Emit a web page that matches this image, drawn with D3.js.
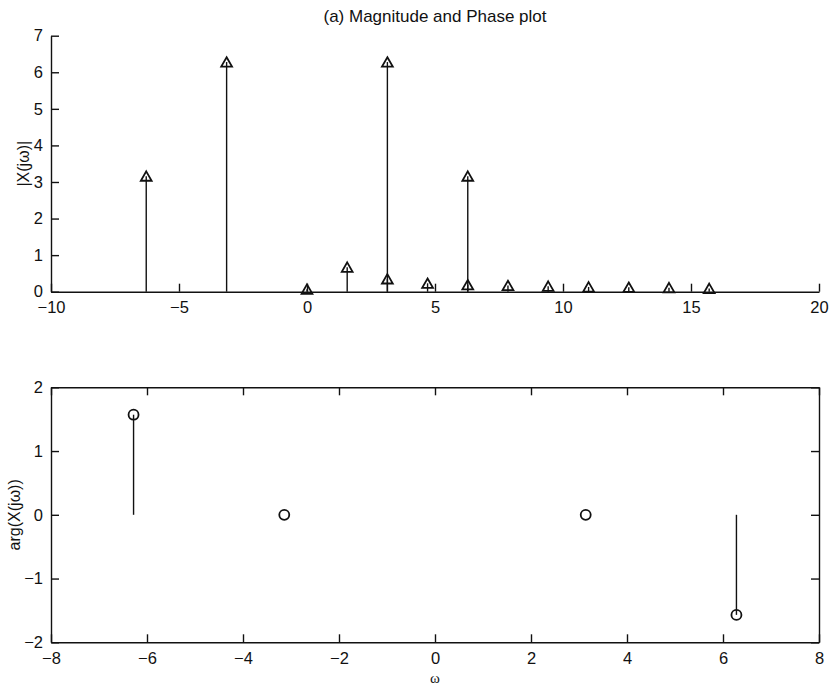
<!DOCTYPE html>
<html>
<head>
<meta charset="utf-8">
<script src="https://cdn.jsdelivr.net/npm/d3@7"></script>
<style>
  body { margin: 0; background: #fff; }
  svg { display: block; font-family: "Liberation Sans", Arial, Helvetica, sans-serif; }
</style>
</head>
<body>
<svg id="chart" width="830" height="687"></svg>
<script>
// Magnitude spectrum samples: frequency ω and |X(jω)|
const magOmega = [-6.28, -3.14, 0, 1.57, 3.14, 3.14, 4.71, 6.28, 6.28, 7.85, 9.42, 11.0, 12.57, 14.14, 15.71];
const magValue = [3.16, 6.28, 0.07, 0.67, 6.28, 0.35, 0.23, 3.16, 0.19, 0.17, 0.15, 0.13, 0.12, 0.11, 0.09];

// Phase spectrum samples: frequency ω and arg(X(jω))
const phaseOmega = [-6.28, -3.14, 3.14, 6.28];
const phaseValue = [1.57, 0, 0, -1.57];

// Tick values for both panels
const magXTicks = [-10, -5, 0, 5, 10, 15, 20];
const magYTicks = [0, 1, 2, 3, 4, 5, 6, 7];
const phaseXTicks = [-8, -6, -4, -2, 0, 2, 4, 6, 8];
const phaseYTicks = [-2, -1, 0, 1, 2];

// Text
const titleText = "(a) Magnitude and Phase plot";
const magLabel = "|X(jω)|";
const phaseLabel = "arg(X(jω))";
const omegaLabel = "ω";

const svg = d3.select("#chart");
const ink = "#111";
const plotLeft = 51, plotRight = 819;
const intFmt = d3.format("d");

// Scales
const xMag = d3.scaleLinear().domain([-10, 20]).range([plotLeft, plotRight]);
const yMag = d3.scaleLinear().domain([0, 7]).range([291.7, 35.7]);
const xPh = d3.scaleLinear().domain([-8, 8]).range([plotLeft, plotRight]);
const yPh = d3.scaleLinear().domain([-2, 2]).range([642.3, 387.3]);

function styleAxis(g, showText) {
  g.select(".domain").attr("stroke", ink).attr("stroke-width", 1.4);
  g.selectAll(".tick line").attr("stroke", ink).attr("stroke-width", 1.4);
  g.selectAll(".tick text")
    .attr("fill", ink)
    .style("font-size", "16.5px")
    .style("font-family", "\"Liberation Sans\", Arial, Helvetica, sans-serif");
  if (!showText) g.selectAll(".tick text").remove();
  g.attr("font-size", null).attr("font-family", null);
}

// Open triangle marker centred on the data point
const triangle = d3.line()([[0, -4.8], [5.4, 4.6], [-5.4, 4.6], [0, -4.8]]) + "Z";

// ---------- Magnitude panel ----------
const magPanel = svg.append("g");

magPanel.append("g")
  .attr("transform", `translate(0,${yMag(0)})`)
  .call(d3.axisBottom(xMag).tickValues(magXTicks).tickFormat(intFmt)
    .tickSizeInner(-8).tickSizeOuter(0).tickPadding(10))
  .call(g => styleAxis(g, true));

magPanel.append("g")
  .attr("transform", `translate(${xMag(-10)},0)`)
  .call(d3.axisLeft(yMag).tickValues(magYTicks).tickFormat(intFmt)
    .tickSizeInner(-8).tickSizeOuter(0).tickPadding(8))
  .call(g => styleAxis(g, true));

const magData = magOmega.map((w, i) => ({ w, v: magValue[i] }));

magPanel.append("g").selectAll("line")
  .data(magData)
  .join("line")
  .attr("x1", d => xMag(d.w)).attr("x2", d => xMag(d.w))
  .attr("y1", yMag(0)).attr("y2", d => yMag(d.v))
  .attr("stroke", ink).attr("stroke-width", 1.4);

magPanel.append("g").selectAll("path")
  .data(magData)
  .join("path")
  .attr("d", triangle)
  .attr("transform", d => `translate(${xMag(d.w)},${yMag(d.v)})`)
  .attr("fill", "none").attr("stroke", ink).attr("stroke-width", 1.8)
  .attr("stroke-linejoin", "miter");

magPanel.append("text")
  .attr("x", (plotLeft + plotRight) / 2).attr("y", 22)
  .attr("text-anchor", "middle")
  .attr("fill", ink)
  .style("font-size", "17px")
  .text(titleText);

magPanel.append("text")
  .attr("transform", `translate(29,${(yMag(0) + yMag(7)) / 2}) rotate(-90)`)
  .attr("text-anchor", "middle")
  .attr("fill", ink)
  .style("font-size", "16px")
  .text(magLabel);

// ---------- Phase panel ----------
const phasePanel = svg.append("g");

phasePanel.append("g")
  .attr("transform", `translate(0,${yPh(-2)})`)
  .call(d3.axisBottom(xPh).tickValues(phaseXTicks).tickFormat(intFmt)
    .tickSizeInner(-8).tickSizeOuter(0).tickPadding(9.5))
  .call(g => styleAxis(g, true));

phasePanel.append("g")
  .attr("transform", `translate(0,${yPh(2)})`)
  .call(d3.axisTop(xPh).tickValues(phaseXTicks).tickSizeInner(-8).tickSizeOuter(0))
  .call(g => styleAxis(g, false));

phasePanel.append("g")
  .attr("transform", `translate(${xPh(-8)},0)`)
  .call(d3.axisLeft(yPh).tickValues(phaseYTicks).tickFormat(intFmt)
    .tickSizeInner(-8).tickSizeOuter(0).tickPadding(8))
  .call(g => styleAxis(g, true));

phasePanel.append("g")
  .attr("transform", `translate(${xPh(8)},0)`)
  .call(d3.axisRight(yPh).tickValues(phaseYTicks).tickSizeInner(-8).tickSizeOuter(0))
  .call(g => styleAxis(g, false));

const phaseData = phaseOmega.map((w, i) => ({ w, v: phaseValue[i] }));

phasePanel.append("g").selectAll("line")
  .data(phaseData)
  .join("line")
  .attr("x1", d => xPh(d.w)).attr("x2", d => xPh(d.w))
  .attr("y1", yPh(0)).attr("y2", d => yPh(d.v))
  .attr("stroke", ink).attr("stroke-width", 1.4);

phasePanel.append("g").selectAll("circle")
  .data(phaseData)
  .join("circle")
  .attr("cx", d => xPh(d.w)).attr("cy", d => yPh(d.v))
  .attr("r", 5)
  .attr("fill", "none").attr("stroke", ink).attr("stroke-width", 1.8);

phasePanel.append("text")
  .attr("transform", `translate(20,${(yPh(-2) + yPh(2)) / 2}) rotate(-90)`)
  .attr("text-anchor", "middle")
  .attr("fill", ink)
  .style("font-size", "16px")
  .text(phaseLabel);

phasePanel.append("text")
  .attr("x", xPh(0)).attr("y", 683)
  .attr("text-anchor", "middle")
  .attr("fill", ink)
  .style("font-family", "\"Liberation Serif\", \"Times New Roman\", serif")
  .style("font-size", "15px")
  .text(omegaLabel);
</script>
</body>
</html>
